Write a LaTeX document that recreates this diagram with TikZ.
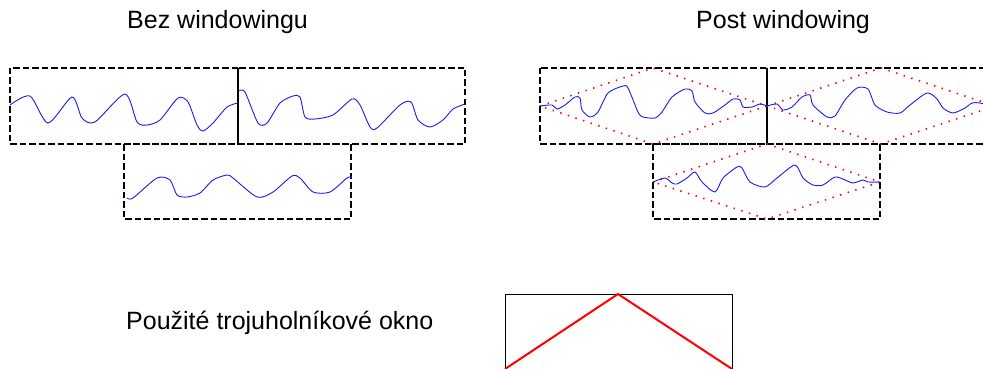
\documentclass[tikz,border=0pt]{standalone}
\usepackage{fontspec}
\setmainfont{Liberation Sans}
\usepackage{xcolor}
\usepackage{tikz}
\usetikzlibrary{positioning}
\definecolor{sigblue}{HTML}{1A1AF0}

\begin{document}
\begin{tikzpicture}[x=1pt, y=-1pt,
    every node/.style={font=\fontsize{25}{30}\selectfont, inner sep=0pt, anchor=base west},
    framebox/.style={draw=black, line width=1.7pt, dash pattern=on 6.5pt off 3pt},
    sigline/.style={draw=sigblue, line width=0.9pt, smooth, tension=0.45},
    winline/.style={draw=red, line width=1.6pt, dash pattern=on 1.4pt off 6.6pt},
    seam/.style={draw=black, line width=1.5pt}]
    \clip (0,0) rectangle (983,369);
    \useasboundingbox (0,0) rectangle (983,369);

    % titles
    \node (bez) at (127,29) {Bez windowingu};
    \node (post) at (696,29) {Post windowing};
    \node (okno) at (126,329) {Použité trojuholníkové okno};

    % bez windowingu
    \draw[framebox] (10,68) rectangle (238,144);
    \draw[framebox] (238,68) rectangle (465,144);
    \draw[framebox] (124,144) rectangle (351,219);
    \draw[seam] (238,68) -- (238,144);
    \draw[sigline] plot coordinates {(10,105) (30,96) (48,123) (72,97) (82,118) (95,122) (125,94) (137,122) (147,125) (160,120) (178,98) (188,102) (197,125) (203,131) (213,123) (227,107) (238,103)};
    \draw[sigline] plot coordinates {(239,91) (245,92) (258,123) (267,123) (280,103) (293,96) (300,97) (305,117) (315,119) (333,115) (352,99) (360,105) (370,127) (377,128) (400,105) (411,102) (418,120) (430,127) (443,120) (453,109) (465,104)};
    \draw[sigline] plot coordinates {(127,198) (133,198) (157,178) (170,180) (177,195) (187,197) (200,193) (213,180) (227,175) (233,178) (257,197) (273,192) (292,176) (300,178) (313,192) (330,192) (347,178) (352,177)};

    % post windowing
    \draw[framebox] (540,68) rectangle (767,144);
    \draw[framebox] (767,68) rectangle (995,144);
    \draw[framebox] (653,144) rectangle (880,219);
    \draw[seam] (767,68) -- (767,144);
    \draw[winline] (540,106) -- (653,68) -- (767,106) -- (653,144) -- cycle;
    \draw[winline] (767,106) -- (881,68) -- (995,106) -- (881,144) -- cycle;
    \draw[winline] (653,182) -- (767,144) -- (880,182) -- (767,219) -- cycle;
    \draw[sigline] plot coordinates {(540,106) (552,105) (557,109) (565,105) (575,97) (580,98) (582,110) (590,117) (598,112) (608,93) (623,86) (628,88) (638,112) (643,117) (655,118) (662,112) (672,97) (685,89) (692,91) (695,102) (705,113) (713,113) (725,105) (733,99) (740,100) (743,107) (752,107) (760,104) (767,106)};
    \draw[sigline] plot coordinates {(767,106) (777,104) (783,110) (792,107) (802,97) (810,95) (813,105) (827,117) (835,116) (845,100) (857,88) (868,89) (875,105) (887,112) (900,113) (910,105) (927,93) (937,99) (943,108) (953,113) (965,108) (972,103) (980,103) (995,107)};
    \draw[sigline] plot coordinates {(653,182) (665,178) (672,183) (677,184) (687,178) (695,172) (702,182) (715,192) (723,178) (737,167) (742,168) (750,182) (765,187) (777,178) (795,165) (803,178) (813,185) (823,185) (835,177) (845,180) (853,183) (863,180) (868,182) (880,182)};

    % trojuholnikove okno
    \draw[line width=1pt] (505,369) -- (505,294) -- (732,294) -- (732,369);
    \draw[red, line width=2pt] (505,369) -- (618,294) -- (732,369);
\end{tikzpicture}
\end{document}
